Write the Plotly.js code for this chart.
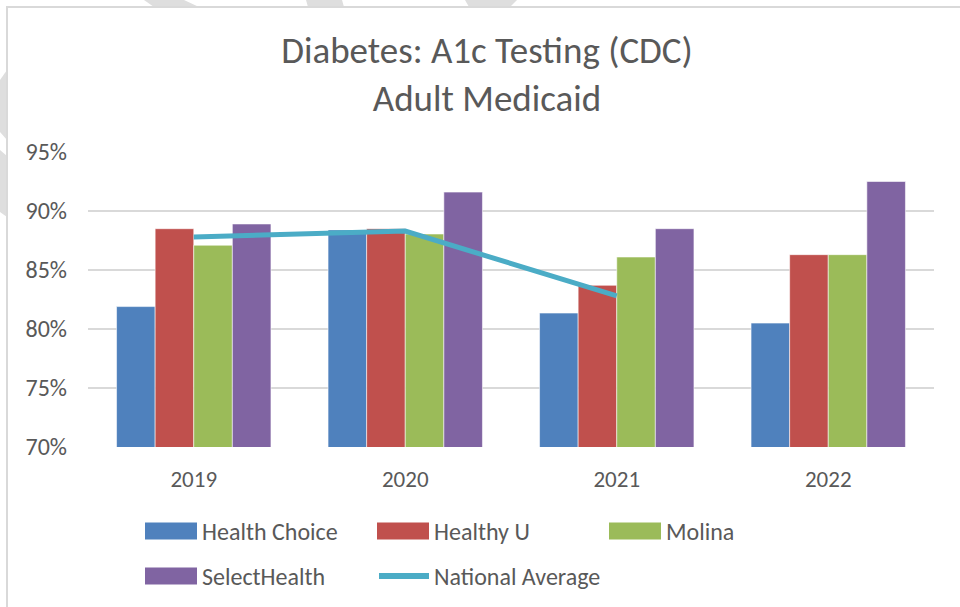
<!DOCTYPE html>
<html>
<head>
<meta charset="utf-8">
<script src="https://cdn.plot.ly/plotly-3.0.1.min.js"></script>
<style>html,body{margin:0;padding:0;background:#fff;}#chart{width:960px;height:607px;}</style>
</head>
<body>
<div id="chart"></div>
<script>
const years = ['2019', '2020', '2021', '2022'];
const healthChoice = [81.9, 88.4, 81.35, 80.5];
const healthyU = [88.5, 88.5, 83.7, 86.3];
const molina = [87.1, 88.05, 86.1, 86.3];
const selectHealth = [88.9, 91.6, 88.5, 92.5];
const natYears = ['2019', '2020', '2021'];
const nationalAverage = [87.8, 88.3, 82.8];
const seriesNames = ['Health Choice', 'Healthy U', 'Molina', 'SelectHealth', 'National Average'];
const colors = ['#4F81BD', '#C0504D', '#9BBB59', '#8064A2', '#4BACC6'];

const FONT = "Carlito, Calibri, 'Liberation Sans Narrow', 'Open Sans', sans-serif";
const TXT = '#595959';
const W = 960, H = 607;
const M = {l: 88, r: 26, t: 152, b: 160};
const pw = W - M.l - M.r, ph = H - M.t - M.b;
const px = x => (x - M.l) / pw;
const py = y => (H - M.b - y) / ph;
const pathPx = pts => 'M' + pts.map(p => px(p[0]) + ',' + py(p[1])).join(' L') + ' Z';

const barSeries = [healthChoice, healthyU, molina, selectHealth];
const traces = barSeries.map((vals, i) => ({
  type: 'bar', x: years, y: vals, name: seriesNames[i],
  marker: {color: colors[i], line: {color: 'rgba(255,255,255,0.55)', width: 1}},
  showlegend: false, hoverinfo: 'skip'
}));
traces.push({
  type: 'scatter', mode: 'lines', x: natYears, y: nationalAverage, name: seriesNames[4],
  line: {color: colors[4], width: 5}, showlegend: false, hoverinfo: 'skip'
});

const stripeFill = '#dedede';
const shapes = [
  // faint watermark bands in the outer margin
  {type: 'path', xref: 'paper', yref: 'paper', layer: 'below', path: pathPx([[144, 0], [184, 0], [199, 7], [154, 7]]), fillcolor: stripeFill, line: {width: 0}},
  {type: 'path', xref: 'paper', yref: 'paper', layer: 'below', path: pathPx([[306, 0], [342, 0], [344, 7], [308, 7]]), fillcolor: stripeFill, line: {width: 0}},
  {type: 'path', xref: 'paper', yref: 'paper', layer: 'below', path: pathPx([[465, 0], [517, 0], [510, 7], [469, 7]]), fillcolor: stripeFill, line: {width: 0}},
  {type: 'path', xref: 'paper', yref: 'paper', layer: 'below', path: pathPx([[0, 80], [7, 70], [7, 140], [0, 132]]), fillcolor: stripeFill, line: {width: 0}},
  {type: 'path', xref: 'paper', yref: 'paper', layer: 'below', path: pathPx([[0, 150], [7, 156], [7, 217], [0, 212]]), fillcolor: stripeFill, line: {width: 0}},
  // chart frame
  {type: 'rect', xref: 'paper', yref: 'paper', layer: 'below',
    x0: px(7), x1: px(1000), y0: py(700), y1: py(7),
    line: {color: '#d9d9d9', width: 2}, fillcolor: 'rgba(0,0,0,0)'}
];
const annotations = [];
// custom legend
const legPos = [[145, 531], [377, 531], [609, 531], [145, 576], [377, 576]];
seriesNames.forEach((name, i) => {
  const [lx, ly] = legPos[i];
  if (i < 4) {
    shapes.push({type: 'rect', xref: 'paper', yref: 'paper', x0: px(lx), x1: px(lx + 52),
      y0: py(ly + 8.5), y1: py(ly - 8.5), fillcolor: colors[i], line: {width: 0}});
  } else {
    shapes.push({type: 'line', xref: 'paper', yref: 'paper', x0: px(lx + 2), x1: px(lx + 52),
      y0: py(ly), y1: py(ly), line: {color: colors[i], width: 6}});
  }
  annotations.push({xref: 'paper', yref: 'paper', x: px(lx + 55), y: py(ly), xanchor: 'left', yanchor: 'middle',
    text: name, showarrow: false, font: {family: FONT, size: 24, color: TXT}});
});

const layout = {
  width: W, height: H,
  margin: M,
  paper_bgcolor: '#fff', plot_bgcolor: '#fff',
  font: {family: FONT, color: TXT},
  title: {text: 'Diabetes: A1c Testing (CDC)<br>Adult Medicaid', x: 487 / W, xref: 'container', xanchor: 'center',
    y: 1 - 63 / H, yref: 'container', yanchor: 'middle', font: {family: FONT, size: 37, color: TXT}},
  barmode: 'group', bargap: 0.27, bargroupgap: 0,
  xaxis: {type: 'category', showgrid: false, zeroline: false, showline: false, ticks: '',
    tickfont: {family: FONT, size: 23, color: TXT}, ticklabelstandoff: 16},
  yaxis: {range: [70, 95], dtick: 5, ticksuffix: '%', showgrid: true, gridcolor: '#d9d9d9', gridwidth: 2,
    zeroline: false, showline: false, ticks: '', tickfont: {family: FONT, size: 24, color: TXT}, ticklabelstandoff: 20},
  shapes: shapes, annotations: annotations,
  showlegend: false
};
Plotly.newPlot('chart', traces, layout, {staticPlot: true});
</script>
</body>
</html>
